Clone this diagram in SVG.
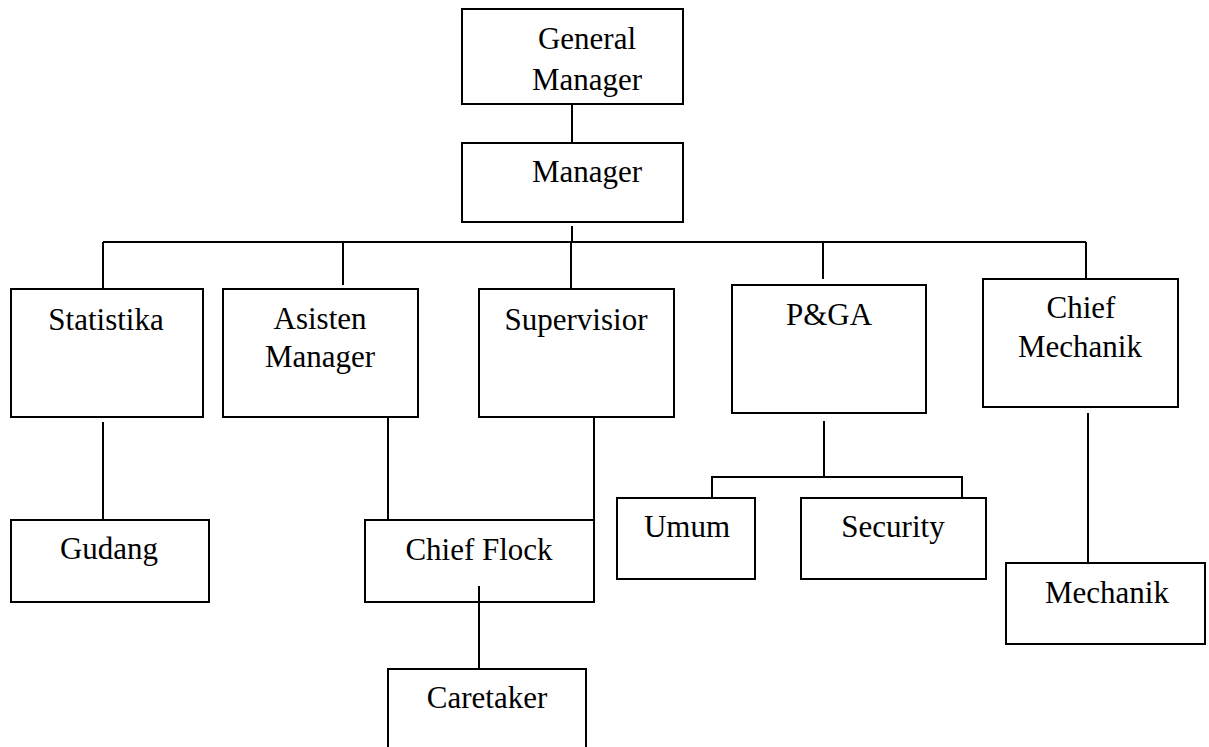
<svg xmlns="http://www.w3.org/2000/svg" width="1209" height="747" viewBox="0 0 1209 747">
  <style>
    .box { fill: none; stroke: #000000; stroke-width: 2; }
    .wire { fill: none; stroke: #000000; stroke-width: 2; }
    .lbl { font-family: "Liberation Serif", "Times New Roman", serif; font-size: 31px; fill: #000000; text-anchor: middle; }
  </style>
  <rect width="1209" height="747" fill="#ffffff"/>

  <!-- connectors -->
  <g id="connectors" class="wire">
    <path d="M572,104 V143"/>
    <path d="M572,226 V242"/>
    <path d="M103,242 H1086"/>
    <path d="M103,242 V289"/>
    <path d="M343,242 V285"/>
    <path d="M571,242 V289"/>
    <path d="M823,242 V279"/>
    <path d="M1086,242 V279"/>
    <path d="M103,422 V520"/>
    <path d="M388,417 V520"/>
    <path d="M594,417 V520"/>
    <path d="M479,586 V669"/>
    <path d="M824,421 V477"/>
    <path d="M712,498 V477 H962 V498"/>
    <path d="M1088,413 V563"/>
  </g>

  <g id="general-manager">
    <rect class="box" x="462" y="9" width="221" height="95"/>
    <text class="lbl" x="587" y="49">General</text>
    <text class="lbl" x="587" y="90">Manager</text>
  </g>
  <g id="manager">
    <rect class="box" x="462" y="143" width="221" height="79"/>
    <text class="lbl" x="587" y="182">Manager</text>
  </g>
  <g id="statistika">
    <rect class="box" x="11" y="289" width="192" height="128"/>
    <text class="lbl" x="106" y="330">Statistika</text>
  </g>
  <g id="asisten-manager">
    <rect class="box" x="223" y="289" width="195" height="128"/>
    <text class="lbl" x="320" y="329">Asisten</text>
    <text class="lbl" x="320" y="367">Manager</text>
  </g>
  <g id="supervisior">
    <rect class="box" x="479" y="289" width="195" height="128"/>
    <text class="lbl" x="576" y="330">Supervisior</text>
  </g>
  <g id="pga">
    <rect class="box" x="732" y="285" width="194" height="128"/>
    <text class="lbl" x="829" y="325">P&amp;GA</text>
  </g>
  <g id="chief-mechanik">
    <rect class="box" x="983" y="279" width="195" height="128"/>
    <text class="lbl" x="1081" y="318">Chief</text>
    <text class="lbl" x="1080" y="357">Mechanik</text>
  </g>
  <g id="gudang">
    <rect class="box" x="11" y="520" width="198" height="82"/>
    <text class="lbl" x="109" y="559">Gudang</text>
  </g>
  <g id="chief-flock">
    <rect class="box" x="365" y="520" width="229" height="82"/>
    <text class="lbl" x="479" y="560">Chief Flock</text>
  </g>
  <g id="caretaker">
    <path class="box" d="M388,748 V669 H586 V748"/>
    <text class="lbl" x="487" y="708">Caretaker</text>
  </g>
  <g id="umum">
    <rect class="box" x="617" y="498" width="138" height="81"/>
    <text class="lbl" x="687" y="537">Umum</text>
  </g>
  <g id="security">
    <rect class="box" x="801" y="498" width="185" height="81"/>
    <text class="lbl" x="893" y="537">Security</text>
  </g>
  <g id="mechanik">
    <rect class="box" x="1006" y="563" width="199" height="81"/>
    <text class="lbl" x="1107" y="603">Mechanik</text>
  </g>
</svg>
